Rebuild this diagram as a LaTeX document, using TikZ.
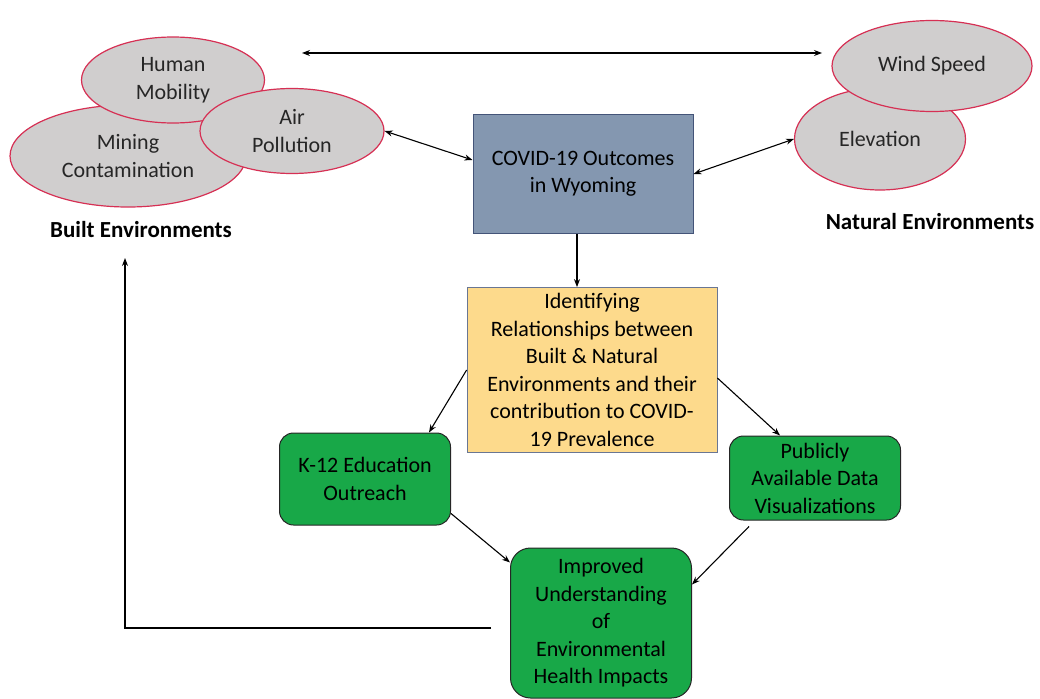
\documentclass[tikz,border=0pt]{standalone}
\usepackage{fontspec}
\setmainfont{Carlito}
\usetikzlibrary{shapes.geometric,arrows.meta}

\definecolor{ellgray}{RGB}{208,206,206}
\definecolor{ellred}{RGB}{214,48,84}
\definecolor{covidblue}{RGB}{132,151,176}
\definecolor{covidline}{RGB}{68,84,120}
\definecolor{identyellow}{RGB}{253,218,140}
\definecolor{outgreen}{RGB}{24,168,72}

\tikzstyle{arrow} = [line width=1.1pt,->,>={Stealth[length=8pt,width=6pt]}]
\tikzstyle{arrowb} = [line width=1.1pt,<->,>={Stealth[length=8pt,width=6pt]}]
\tikzstyle{env} = [ellipse,draw=ellred,line width=1.2pt,fill=ellgray,inner sep=0pt,align=center,text=black!85]
\tikzstyle{box} = [rectangle,inner sep=0pt,align=center]
\tikzstyle{outbox} = [box,draw=black!85,fill=outgreen,line width=1pt,rounded corners=14pt]

\begin{document}
\begin{tikzpicture}[x=1pt,y=-1pt,font=\fontsize{22}{27.5}\selectfont]
\useasboundingbox (0,0) rectangle (1040,698);

% Built environments
\node [env,minimum width=236pt,minimum height=102pt] (mining) at (128,156) {Mining\\Contamination};
\node [env,minimum width=183pt,minimum height=86pt] (human) at (173,80) {Human\\Mobility};
\node [env,minimum width=184pt,minimum height=85pt] (air) at (292,131) {Air\\Pollution};
\node [font=\fontsize{23}{27}\selectfont\bfseries] (builtlbl) at (141,230) {Built Environments};

% Natural environments
\node [env,minimum width=171pt,minimum height=102pt] (elev) at (880,139) {Elevation};
\node [env,minimum width=200pt,minimum height=91pt] (wind) at (932,66) {Wind Speed};
\node [font=\fontsize{23}{27}\selectfont\bfseries] (natlbl) at (930,222) {Natural Environments};

% Top double arrow
\coordinate (topL) at (302,53);
\coordinate (topR) at (822,53);
\draw [arrowb] (topL) -- (topR);

% Outcomes
\node [box,draw=covidline,fill=covidblue,line width=1pt,minimum width=220pt,minimum height=119pt] (covid) at (583,174) {COVID-19 Outcomes\\in Wyoming};
\draw [arrowb] (air.east) -- ([yshift=14pt]covid.west);
\draw [arrowb] (covid.east) -- (elev.west);

% Relationships
\node [box,draw=covidline!80,fill=identyellow,line width=0.8pt,minimum width=250pt,minimum height=165pt] (ident) at (592,370) {Identifying\\Relationships between\\Built \& Natural\\Environments and their\\contribution to COVID-\\19 Prevalence};
\draw [arrow] ([xshift=-6pt]covid.south) -- ([xshift=-6pt]covid.south |- ident.north);

% Outputs
\node [outbox,minimum width=171pt,minimum height=92pt] (k12) at (365,479) {K-12 Education\\Outreach};
\node [outbox,minimum width=171pt,minimum height=84pt] (pub) at (815,478) {Publicly\\Available Data\\Visualizations};
\node [outbox,rounded corners=20pt,minimum width=181pt,minimum height=150pt] (impr) at (601,623) {Improved\\Understanding\\of\\Environmental\\Health Impacts};

\draw [arrow] (ident.west) -- ([xshift=-22pt]k12.north east);
\draw [arrow] ([yshift=-8pt]ident.east) -- ([xshift=-35pt]pub.north);
\draw [arrow] ([yshift=12pt]k12.south east) -- ([yshift=-15pt]impr.north west);
\draw [arrow] ([xshift=20pt,yshift=-6pt]pub.south west) -- ([yshift=-37pt]impr.north east);

% Feedback to built environments
\coordinate (fb) at (125,258);
\draw [arrow] ([xshift=-19pt,yshift=-5pt]impr.west) -| (fb);

\end{tikzpicture}
\end{document}
